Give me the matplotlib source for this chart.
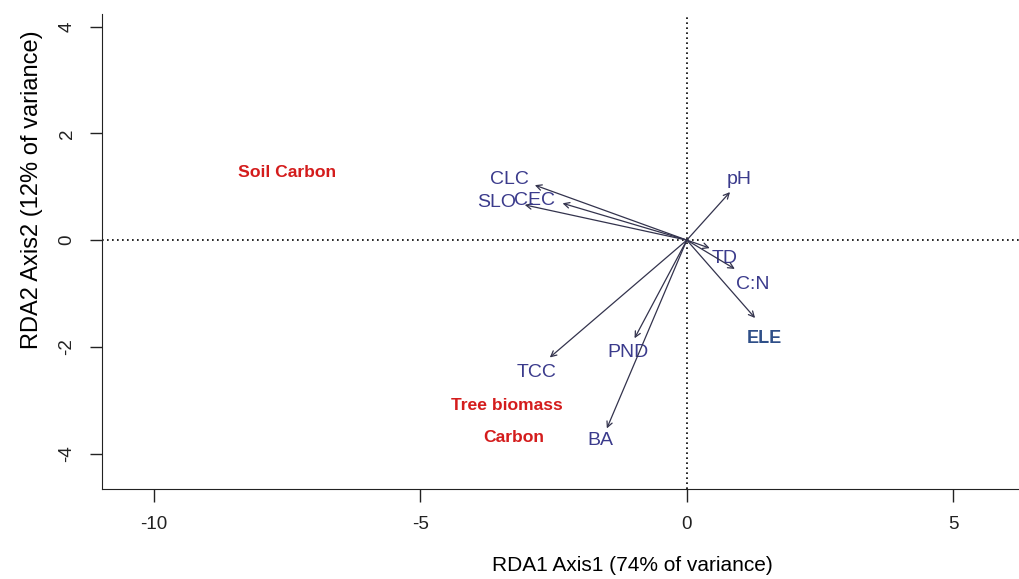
import numpy as np
import matplotlib.pyplot as plt

plt.rcParams['font.family'] = ['Liberation Sans', 'DejaVu Sans']

# arrow tips (RDA1, RDA2)
vars_ = ["CLC", "SLO", "CEC", "pH", "TD", "C:N", "ELE", "TCC", "PND", "BA"]
tip_x = [-2.85, -3.04, -2.33, 0.81, 0.43, 0.90, 1.28, -2.57, -0.98, -1.50]
tip_y = [1.03, 0.66, 0.69, 0.90, -0.15, -0.54, -1.46, -2.20, -1.84, -3.53]
# label positions
lab_x = [-3.32, -3.56, -2.85, 0.98, 0.71, 1.24, 1.46, -2.81, -1.11, -1.63]
lab_y = [1.13, 0.71, 0.75, 1.13, -0.34, -0.83, -1.84, -2.48, -2.10, -3.75]

groups = ["Soil Carbon", "Tree biomass", "Carbon"]
grp_x = [-7.49, -3.38, -3.25]
grp_y = [1.26, -3.10, -3.70]

fig = plt.figure(figsize=(10.19, 5.79), dpi=100)
ax = fig.add_axes([0.100, 0.155, 0.900, 0.821])

ax.axhline(0, color="black", ls=(0, (1, 2)), lw=1.2)
ax.axvline(0, color="black", ls=(0, (1, 2)), lw=1.2)

for i, v in enumerate(vars_):
    ax.annotate("", xy=(tip_x[i], tip_y[i]), xytext=(0, 0),
                arrowprops=dict(arrowstyle="->", color="#33334d", lw=0.9,
                                shrinkA=0, shrinkB=0, mutation_scale=10))
    if v == "ELE":
        ax.text(lab_x[i], lab_y[i], v, color="#2f4f88", fontsize=13,
                fontweight="bold", ha="center", va="center")
    else:
        ax.text(lab_x[i], lab_y[i], v, color="#3b3b8c", fontsize=14,
                ha="center", va="center")

for g, x, y in zip(groups, grp_x, grp_y):
    ax.text(x, y, g, color="#d41c1c", fontsize=12.6, fontweight="bold",
            ha="center", va="center")

ax.set_xlim(-10.97, 6.23)
ax.set_ylim(-4.67, 4.24)
ax.set_xticks([-10, -5, 0, 5])
ax.set_yticks([-4, -2, 0, 2, 4])
ax.set_xticklabels(["-10", "-5", "0", "5"])
ax.set_yticklabels(["-4", "-2", "0", "2", "4"], rotation=90, va="center")
ax.tick_params(length=9, width=1, labelsize=13.5, pad=10, colors="#222222")
ax.spines["top"].set_visible(False)
ax.spines["right"].set_visible(False)
ax.spines["left"].set_color("#222222")
ax.spines["bottom"].set_color("#222222")

ax.set_xlabel("RDA1 Axis1 (74% of variance)", fontsize=15)
ax.set_ylabel("RDA2 Axis2 (12% of variance)", fontsize=17)
ax.xaxis.set_label_coords(0.578, -0.14)
ax.yaxis.set_label_coords(-0.064, 0.63)

fig.savefig("out.png", dpi=100)
